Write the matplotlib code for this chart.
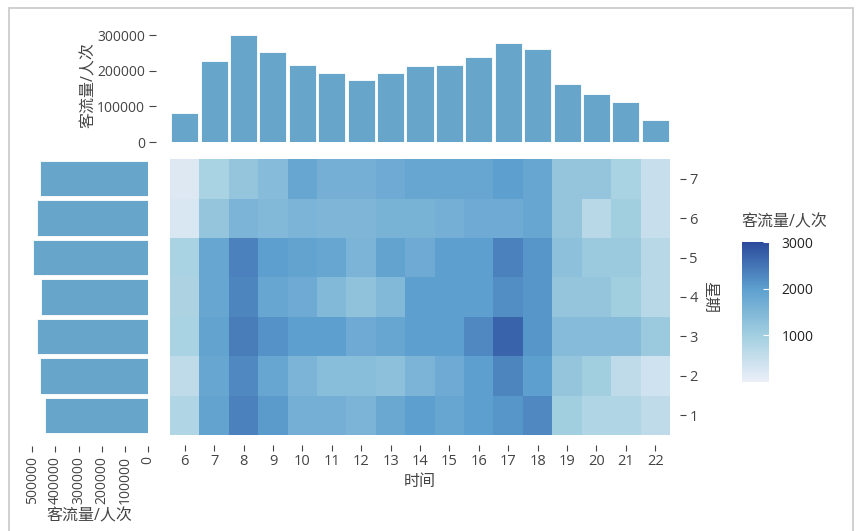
import numpy as np
import matplotlib.pyplot as plt
from matplotlib.colors import LinearSegmentedColormap
from matplotlib.patches import Rectangle

plt.rcParams['font.family'] = ['Open Sans', 'Noto Sans CJK SC', 'DejaVu Sans']

hours = list(range(6, 23))
days = [1, 2, 3, 4, 5, 6, 7]

# hourly totals (top bars)
hour_total = [81000, 226000, 300000, 253000, 217000, 195000, 175000, 194000, 213000,
              217000, 240000, 278000, 260000, 163000, 136000, 113000, 61000]
# weekday totals (left bars), day 1..7
day_total = [444000, 468000, 478000, 464000, 496000, 480000, 467000]

# mean flow per cell, rows = day 1..7, cols = hour 6..22
flow = np.array([
    [800, 1900, 2350, 2050, 1650, 1650, 1550, 1800, 2000, 1850, 2000, 2100, 2250, 1000, 800, 800, 600],
    [600, 1850, 2250, 1850, 1550, 1350, 1350, 1300, 1550, 1750, 2000, 2300, 2000, 1200, 1000, 600, 400],
    [900, 1900, 2400, 2150, 2000, 2000, 1750, 1850, 2000, 2000, 2250, 2700, 2100, 1400, 1400, 1400, 1100],
    [850, 1850, 2300, 1850, 1750, 1450, 1250, 1450, 2000, 2000, 2000, 2200, 2100, 1200, 1200, 1000, 700],
    [900, 1850, 2350, 2000, 1900, 1850, 1550, 1900, 1750, 2000, 2000, 2350, 2100, 1300, 1100, 1100, 700],
    [250, 1200, 1550, 1450, 1550, 1500, 1500, 1600, 1600, 1650, 1750, 1750, 1850, 1200, 700, 1000, 500],
    [200, 900, 1200, 1400, 1850, 1650, 1650, 1750, 1850, 1850, 1850, 2000, 1850, 1200, 1200, 900, 500],
])

bar_color = '#68a5cb'
txt = '#444444'
cmap = LinearSegmentedColormap.from_list('flow', ['#eceff9', '#a2cfe0', '#5d9fcf', '#2b4a9b'])

W, H = 856, 531
fig = plt.figure(figsize=(W / 100, H / 100), dpi=100)
fig.patches.append(Rectangle((9 / W, -0.01), 844 / W, 1 - 8 / H + 0.01, transform=fig.transFigure,
                             fill=False, edgecolor='#c8c8c8', linewidth=1.2))


def px(x0, y0, x1, y1):
    return [x0 / W, 1 - y1 / H, (x1 - x0) / W, (y1 - y0) / H]


def clean(ax, off=8):
    for s in ax.spines.values():
        s.set_position(('outward', off))
        s.set_visible(False)
    ax.tick_params(colors=txt, labelcolor=txt, labelsize=10, length=4, width=0.8, pad=3)


# heatmap
ax_h = fig.add_axes(px(170, 159, 670, 435))
im = ax_h.imshow(flow, cmap=cmap, vmin=0, vmax=3000, aspect='auto', origin='lower',
                 extent=(hours[0] - 0.5, hours[-1] + 0.5, days[0] - 0.5, days[-1] + 0.5))
clean(ax_h, 7)
ax_h.set_xticks(hours)
ax_h.set_yticks(days)
ax_h.yaxis.tick_right()
ax_h.yaxis.set_label_position('right')
ax_h.tick_params(axis='both', labelsize=10.5)
ax_h.set_xlabel('时间', fontsize=11.5, color=txt, labelpad=3)
ax_h.set_ylabel('星期', fontsize=11.5, color=txt, rotation=270, labelpad=14)

# top bars
ax_t = fig.add_axes(px(170, 28, 670, 142))
ax_t.bar(hours, hour_total, width=0.92, color=bar_color, edgecolor='white', linewidth=0.6)
ax_t.set_xlim(hours[0] - 0.5, hours[-1] + 0.5)
ax_t.set_ylim(0, 320000)
ax_t.set_yticks([0, 100000, 200000, 300000])
ax_t.set_xticks([])
clean(ax_t, 10)
ax_t.tick_params(axis='y', length=5)
ax_t.set_ylabel('客流量/人次', fontsize=11.5, color=txt, labelpad=0)

# left bars
ax_l = fig.add_axes(px(30, 159, 148, 435))
ax_l.barh(days, day_total, height=0.9, color=bar_color, edgecolor='white', linewidth=0.6)
ax_l.set_ylim(days[0] - 0.5, days[-1] + 0.5)
ax_l.set_xlim(510000, 0)
ax_l.set_xticks([0, 100000, 200000, 300000, 400000, 500000])
ax_l.set_yticks([])
clean(ax_l, 8)
ax_l.tick_params(axis='x', labelrotation=90)
ax_l.set_xlabel('客流量/人次', fontsize=11.5, color=txt, labelpad=3)

# colorbar
ax_c = fig.add_axes(px(742, 242, 769, 382))
cb = fig.colorbar(im, cax=ax_c, ticks=[1000, 2000, 3000])
cb.outline.set_visible(False)
ax_c.tick_params(colors='white', labelcolor='#222222', labelsize=10, length=4, width=0.8,
                 direction='in', pad=9)
fig.text(741 / W, 1 - 222 / H, '客流量/人次', fontsize=11.5, color=txt, va='center', ha='left')

fig.savefig('out.png', dpi=100)
